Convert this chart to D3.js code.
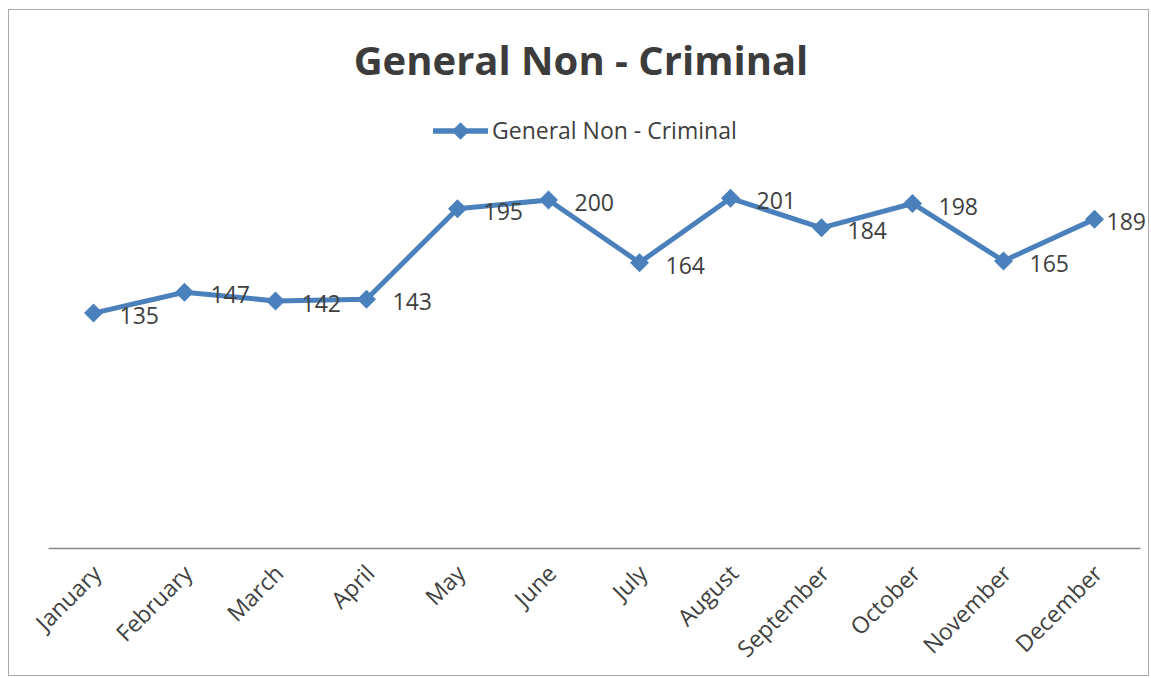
<!DOCTYPE html>
<html>
<head>
<meta charset="utf-8">
<script src="https://cdn.jsdelivr.net/npm/d3@7"></script>
<style>
  body { margin: 0; background: #fff; }
  text { font-family: "Open Sans", sans-serif; fill: #404040; }
</style>
</head>
<body>
<script>
var width = 1151,
    height = 678;

var months = ["January", "February", "March", "April", "May", "June",
              "July", "August", "September", "October", "November", "December"];
var values = [135, 147, 142, 143, 195, 200, 164, 201, 184, 198, 165, 189];
var seriesName = "General Non - Criminal";

var lineColor = "#4a80bb";

var svg = d3.select("body")
            .append("svg")
            .attr("width", width)
            .attr("height", height);

// chart frame
svg.append("rect")
   .attr("x", 8.5)
   .attr("y", 9.5)
   .attr("width", 1140)
   .attr("height", 666)
   .attr("fill", "none")
   .attr("stroke", "#aaa")
   .attr("stroke-width", 1);

var xScale = d3.scalePoint()
               .domain(months)
               .range([48, 1140])
               .padding(0.5);

var yScale = d3.scaleLinear()
               .domain([0, 250])
               .range([548, 113]);

// title
svg.append("text")
   .attr("x", 581)
   .attr("y", 75)
   .attr("text-anchor", "middle")
   .attr("font-size", "40px")
   .attr("font-weight", "bold")
   .style("fill", "#3c3c3c")
   .text(seriesName);

// legend
var legend = svg.append("g").attr("transform", "translate(433,131)");
legend.append("line")
      .attr("x1", 0).attr("x2", 55)
      .attr("stroke", lineColor)
      .attr("stroke-width", 5.5);
legend.append("path")
      .attr("transform", "translate(27.5,0)")
      .attr("d", d3.symbol().type(d3.symbolDiamond2).size(200))
      .attr("fill", lineColor);
legend.append("text")
      .attr("x", 59)
      .attr("dy", "0.35em")
      .attr("font-size", "23px")
      .text(seriesName);

// x axis
var xAxis = d3.axisBottom(xScale).tickSize(0).tickPadding(0);
var gx = svg.append("g")
            .attr("transform", "translate(0,548)")
            .call(xAxis);
gx.select(".domain")
  .attr("stroke", "#888")
  .attr("stroke-width", 1.5);
gx.selectAll("text")
  .attr("font-size", "23px")
  .style("fill", "#404040")
  .attr("font-family", "Open Sans, sans-serif")
  .attr("text-anchor", "end")
  .attr("dy", null)
  .attr("y", 0)
  .attr("transform", "translate(9,27) rotate(-45)");

// line
var line = d3.line()
             .x(function(d, i) { return xScale(months[i]); })
             .y(function(d) { return yScale(d); });

svg.append("path")
   .datum(values)
   .attr("fill", "none")
   .attr("stroke", lineColor)
   .attr("stroke-width", 5)
   .attr("stroke-linejoin", "round")
   .attr("d", line);

// markers
svg.selectAll(".marker")
   .data(values)
   .enter()
   .append("path")
   .attr("class", "marker")
   .attr("transform", function(d, i) {
      return "translate(" + xScale(months[i]) + "," + yScale(d) + ")";
   })
   .attr("d", d3.symbol().type(d3.symbolDiamond2).size(230))
   .attr("fill", lineColor);

// data labels, pulled back inside the frame when they would run past it
svg.selectAll(".label")
   .data(values)
   .enter()
   .append("text")
   .attr("class", "label")
   .attr("y", function(d) { return yScale(d) + 3; })
   .attr("dy", "0.35em")
   .attr("font-size", "23px")
   .text(function(d) { return d; })
   .attr("x", function(d, i) {
      var w = this.getComputedTextLength();
      return Math.min(xScale(months[i]) + 26, 1146 - w);
   });
</script>
</body>
</html>
